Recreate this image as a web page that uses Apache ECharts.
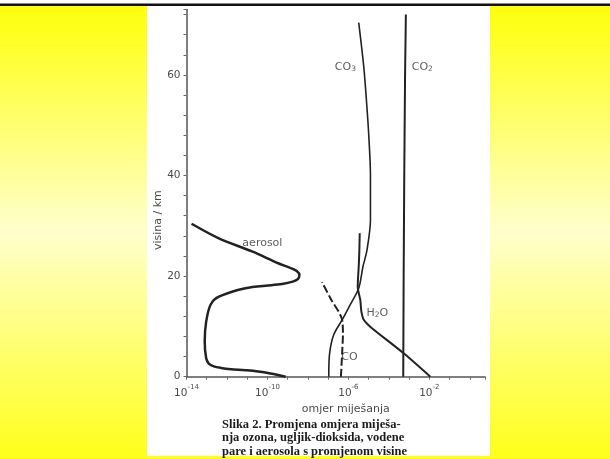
<!DOCTYPE html>
<html>
<head>
<meta charset="utf-8">
<script src="https://cdn.jsdelivr.net/npm/echarts@6/dist/echarts.min.js"></script>
<style>
  html, body { margin: 0; padding: 0; background: #fff; }
  #miješanje { width: 610px; height: 459px; }
</style>
</head>
<body>
<div id="miješanje"></div>
<script>
// mixing ratios are kept as log10 values (x axis shows 10^n)
let co2Height = [0, 20, 40, 60, 72];
let co2LogMix = [-3.29, -3.27, -3.24, -3.2, -3.16];

let o3Height = [0, 4.6, 8.3, 11.3, 14.4, 17.6, 21.9, 25.2, 31.2, 35, 40, 48.4, 55, 61.6, 70.4];
let o3LogMix = [-6.97, -6.93, -6.73, -6.31, -5.9, -5.49, -5.28, -5.08, -4.91, -4.91, -4.91, -5.0, -5.11, -5.24, -5.49];

let h2oHeight = [0, 4.65, 9.9, 11.3, 13, 15.2, 17.9, 21.9, 25, 28.5];
let h2oLogMix = [-1.95, -3.27, -4.91, -5.24, -5.36, -5.41, -5.54, -5.49, -5.46, -5.44];

let coHeight = [0, 4.65, 8.6, 11.3, 15.6, 18.8];
let coLogMix = [-6.37, -6.31, -6.27, -6.31, -6.89, -7.3];

let aerosolHeight = [30.4, 27.5, 24.9, 22.5, 21.6, 21.0, 20.2, 19.4, 18.9, 18.5, 18.2, 17.6, 15.9, 14.3, 10.9, 7.0, 3.7, 2.6, 2.05, 1.75, 1.5, 1.3, 0.85, 0];
let aerosolLogMix = [-13.75, -12.4, -10.76, -9.44, -8.85, -8.55, -8.42, -8.5, -8.75, -9.2, -9.8, -11.09, -12.4, -12.81, -13.03, -13.1, -13.03, -12.9, -12.65, -12.3, -11.8, -11.09, -10.1, -9.1];

let xLabelPowers = [-14, -10, -6, -2];
let yLabelHeights = [0, 20, 40, 60];

// curve names as printed in the figure
let curveLabels = [
  { text: '{t|CO}{sub|3}', e: -6.15, h: 61.6 },
  { text: '{t|CO}{sub|2}', e: -2.35, h: 61.6 },
  { text: '{t|H}{sub|2}{t|O}', e: -4.57, h: 12.7 },
  { text: '{t|CO}', e: -5.95, h: 3.9 },
  { text: '{t|aerosol}', e: -10.25, h: 26.6 }
];

let caption = [
  'Slika 2. Promjena omjera miješa-',
  'nja ozona, ugljik-dioksida, vodene',
  'pare i aerosola s promjenom visine'
];

function pairs (xs, ys) {
  return xs.map((x, i) => [x, ys[i]]);
}

let myChart = echarts.init(document.getElementById('miješanje'));

let lineColor = '#222';
let textColor = '#4a4a4a';

myChart.setOption({
  backgroundColor: '#fff',
  animation: false,
  title: {
    text: caption.join('\n'),
    left: 222,
    top: 418,
    padding: 0,
    textStyle: {
      fontFamily: 'Liberation Serif',
      fontWeight: 'bold',
      fontSize: 12.5,
      lineHeight: 13.5,
      color: '#1a1a1a'
    }
  },
  graphic: [
    {
      type: 'rect',
      z: -10,
      shape: { x: 0, y: 6, width: 610, height: 453 },
      style: {
        fill: {
          type: 'linear', x: 0, y: 0, x2: 0, y2: 1,
          colorStops: [
            { offset: 0, color: '#ffff0a' },
            { offset: 0.5, color: '#ffffcc' },
            { offset: 1, color: '#ffff1a' }
          ]
        }
      }
    },
    {
      type: 'rect',
      z: -9,
      shape: { x: 147, y: 6, width: 343, height: 450 },
      style: { fill: '#fff' }
    },
    {
      type: 'rect',
      z: -8,
      shape: { x: 0, y: 3.5, width: 610, height: 2.5 },
      style: { fill: '#111' }
    }
  ],
  grid: {
    left: 186.5,
    right: 125,
    top: 9.5,
    bottom: 82.3
  },
  xAxis: {
    type: 'value',
    min: -14,
    max: 0.75,
    interval: 1,
    name: 'omjer miješanja',
    nameLocation: 'middle',
    nameGap: 27,
    nameTextStyle: {
      color: textColor,
      fontFamily: 'DejaVu Sans',
      fontSize: 11,
      padding: [0, 0, 0, 20]
    },
    splitLine: { show: false },
    axisLine: {
      onZero: false,
      lineStyle: { color: '#555', width: 1.5 }
    },
    axisTick: {
      length: 3,
      lineStyle: { color: '#666', width: 1 }
    },
    axisLabel: {
      margin: 5,
      formatter: (v) => xLabelPowers.indexOf(v) >= 0 ? '{b|10}{s|' + v + '}' : '',
      rich: {
        b: { fontSize: 10.5, color: textColor, fontFamily: 'DejaVu Sans', padding: [6, 0, 0, 0] },
        s: { fontSize: 7, color: textColor, fontFamily: 'DejaVu Sans', padding: [0, 0, 6, 0] }
      }
    }
  },
  yAxis: {
    type: 'value',
    min: 0,
    max: 73,
    interval: 4,
    name: 'visina / km',
    nameLocation: 'middle',
    nameGap: 20,
    nameTextStyle: {
      color: textColor,
      fontFamily: 'DejaVu Sans',
      fontSize: 11,
      padding: [0, 54, 0, 0]
    },
    splitLine: { show: false },
    axisLine: {
      onZero: false,
      lineStyle: { color: '#555', width: 1.5 }
    },
    axisTick: {
      length: 3,
      lineStyle: { color: '#666', width: 1 }
    },
    axisLabel: {
      margin: 6,
      color: textColor,
      fontFamily: 'DejaVu Sans',
      fontSize: 10.5,
      formatter: (v) => yLabelHeights.indexOf(v) >= 0 ? String(v) : ''
    }
  },
  series: [
    {
      name: 'CO2',
      type: 'line',
      symbol: 'none',
      data: pairs(co2LogMix, co2Height),
      lineStyle: { color: lineColor, width: 2 }
    },
    {
      name: 'O3',
      type: 'line',
      symbol: 'none',
      smooth: 0.3,
      data: pairs(o3LogMix, o3Height),
      lineStyle: { color: lineColor, width: 1.6 }
    },
    {
      name: 'H2O',
      type: 'line',
      symbol: 'none',
      smooth: 0.25,
      data: pairs(h2oLogMix, h2oHeight),
      lineStyle: { color: lineColor, width: 2 }
    },
    {
      name: 'CO',
      type: 'line',
      symbol: 'none',
      smooth: 0.3,
      data: pairs(coLogMix, coHeight),
      lineStyle: { color: lineColor, width: 2, type: [8, 3] }
    },
    {
      name: 'aerosol',
      type: 'line',
      symbol: 'none',
      smooth: 0.3,
      data: pairs(aerosolLogMix, aerosolHeight),
      lineStyle: { color: lineColor, width: 2.5 }
    },
    {
      name: 'oznake',
      type: 'scatter',
      symbolSize: 0,
      silent: true,
      data: curveLabels.map((d) => ({ value: [d.e, d.h], text: d.text })),
      label: {
        show: true,
        position: 'inside',
        formatter: (p) => p.data.text,
        rich: {
          t: { fontSize: 11, color: '#333', fontFamily: 'DejaVu Sans' },
          sub: { fontSize: 7.5, color: '#333', fontFamily: 'DejaVu Sans', padding: [5, 0, 0, 0] }
        }
      }
    }
  ]
});
</script>
</body>
</html>
